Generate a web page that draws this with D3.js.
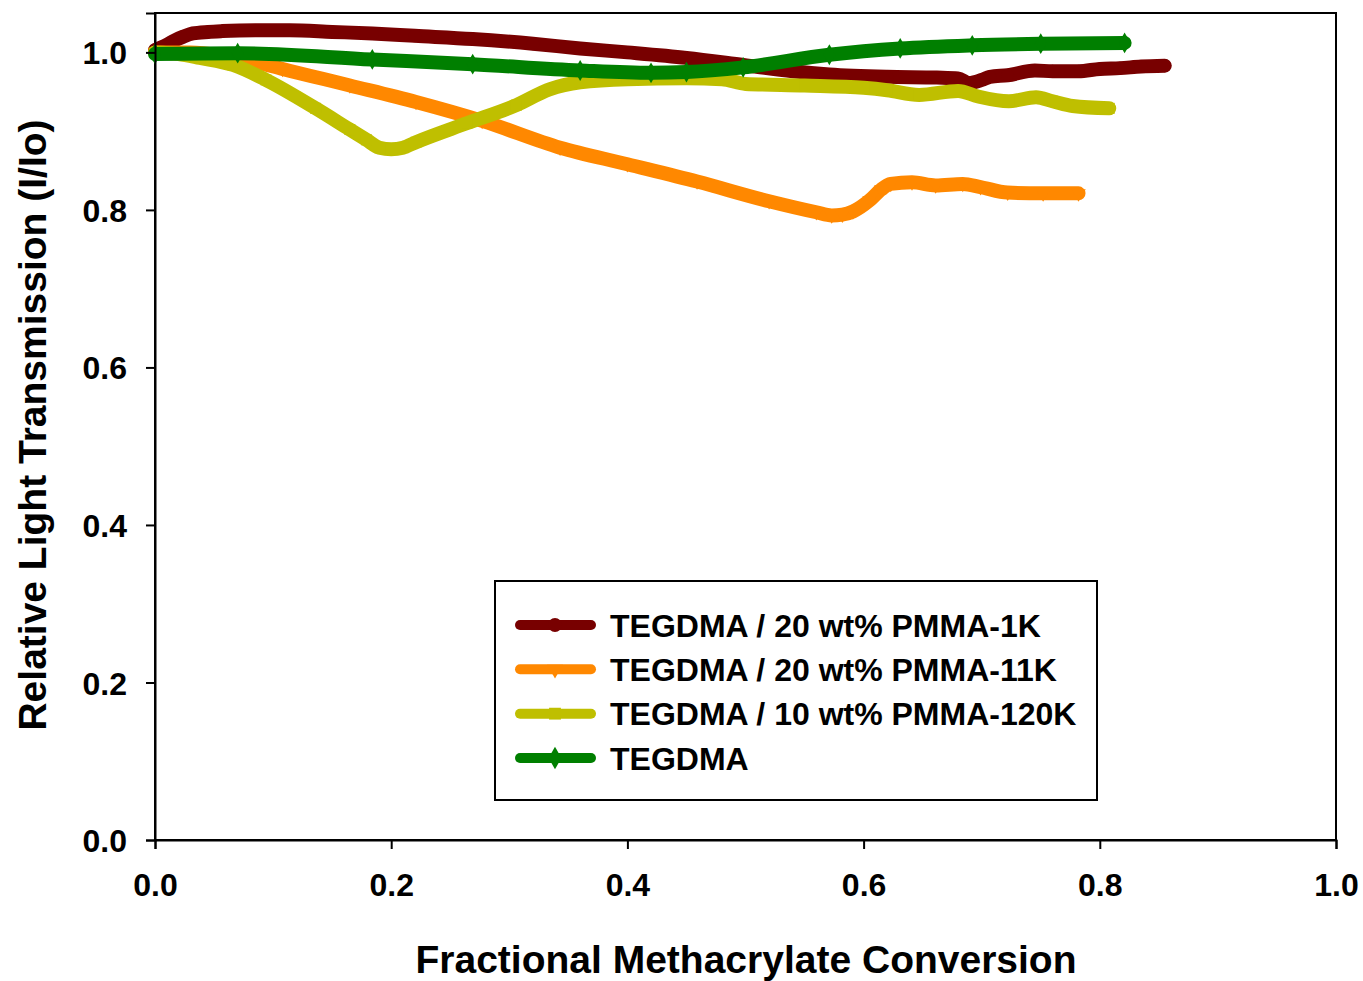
<!DOCTYPE html>
<html>
<head>
<meta charset="utf-8">
<script src="https://cdn.jsdelivr.net/npm/d3@7/dist/d3.min.js"></script>
<style>
  html, body { margin: 0; padding: 0; background: #ffffff; }
  svg { display: block; }
  text { font-family: "Liberation Sans", Arial, sans-serif; font-weight: bold; fill: #000; }
</style>
</head>
<body>
<svg id="chart" width="1363" height="981"></svg>
<script>
// Relative light transmission vs. fractional methacrylate conversion
const seriesNames = [
  "TEGDMA / 20 wt% PMMA-1K",
  "TEGDMA / 20 wt% PMMA-11K",
  "TEGDMA / 10 wt% PMMA-120K",
  "TEGDMA"
];

// TEGDMA / 20 wt% PMMA-1K
const pmma1kX = [0, 0.008, 0.015, 0.024, 0.032, 0.045, 0.057, 0.085, 0.114, 0.15, 0.184, 0.22, 0.269, 0.32, 0.36, 0.4, 0.45, 0.498, 0.54, 0.571, 0.62, 0.662, 0.68, 0.689, 0.7, 0.707, 0.722, 0.745, 0.76, 0.782, 0.8, 0.817, 0.835, 0.855];
const pmma1kY = [1.003, 1.008, 1.014, 1.02, 1.024, 1.026, 1.027, 1.028, 1.028, 1.026, 1.024, 1.021, 1.017, 1.011, 1.005, 1.0, 0.993, 0.984, 0.976, 0.972, 0.969, 0.968, 0.967, 0.961, 0.965, 0.969, 0.971, 0.977, 0.976, 0.976, 0.979, 0.98, 0.982, 0.983];

// TEGDMA / 20 wt% PMMA-11K
const pmma11kX = [0, 0.03, 0.06, 0.085, 0.108, 0.165, 0.221, 0.277, 0.343, 0.4, 0.459, 0.52, 0.56, 0.573, 0.582, 0.591, 0.605, 0.615, 0.623, 0.641, 0.661, 0.684, 0.699, 0.722, 0.752, 0.782];
const pmma11kY = [1.0, 1.0, 0.995, 0.988, 0.979, 0.958, 0.937, 0.913, 0.879, 0.858, 0.836, 0.811, 0.797, 0.793, 0.794, 0.798, 0.812, 0.826, 0.833, 0.835, 0.831, 0.833, 0.829, 0.822, 0.821, 0.821];

// TEGDMA / 10 wt% PMMA-120K
const pmma120kX = [0, 0.02, 0.038, 0.066, 0.094, 0.136, 0.165, 0.179, 0.19, 0.2, 0.21, 0.221, 0.264, 0.306, 0.334, 0.36, 0.4, 0.45, 0.48, 0.5, 0.55, 0.6, 0.62, 0.647, 0.68, 0.697, 0.723, 0.746, 0.76, 0.777, 0.808];
const pmma120kY = [1.0, 0.998, 0.993, 0.984, 0.965, 0.929, 0.902, 0.889, 0.879, 0.877, 0.879, 0.886, 0.91, 0.933, 0.953, 0.962, 0.966, 0.967, 0.966, 0.96, 0.958, 0.955, 0.952, 0.946, 0.951, 0.944, 0.938, 0.943, 0.938, 0.932, 0.929];

// TEGDMA
const tegdmaX = [0, 0.07, 0.184, 0.269, 0.36, 0.42, 0.45, 0.498, 0.571, 0.631, 0.692, 0.75, 0.821];
const tegdmaY = [0.998, 0.999, 0.991, 0.985, 0.977, 0.974, 0.975, 0.981, 0.997, 1.005, 1.009, 1.011, 1.012];

const xTicks = [0.0, 0.2, 0.4, 0.6, 0.8, 1.0];
const yTicks = [0.0, 0.2, 0.4, 0.6, 0.8, 1.0];

const xTitle = "Fractional Methacrylate Conversion";
const yTitle = "Relative Light Transmission (I/Io)";

const colors = ["#780000", "#ff8800", "#bfbf00", "#007f00"];
const symbols = [d3.symbolCircle, d3.symbolTriangle, d3.symbolSquare, d3.symbolDiamond];
const markerSizes = [130, 90, 120, 125];

const series = [
  { name: seriesNames[0], xs: pmma1kX, ys: pmma1kY },
  { name: seriesNames[1], xs: pmma11kX, ys: pmma11kY },
  { name: seriesNames[2], xs: pmma120kX, ys: pmma120kY },
  { name: seriesNames[3], xs: tegdmaX, ys: tegdmaY }
].map((s, i) => ({
  name: s.name,
  color: colors[i],
  symbol: symbols[i],
  markerSize: markerSizes[i],
  points: s.xs.map((x, j) => ({ x, y: s.ys[j] }))
}));

const plot = { left: 155, right: 1336, top: 13, bottom: 840 };
const svg = d3.select("#chart");

const x = d3.scaleLinear().domain([0, 1]).range([plot.left, plot.right]);
const y = d3.scaleLinear().domain([0, 1.05]).range([plot.bottom, plot.top]);

// Frame around the plotting area
svg.append("rect")
  .attr("x", plot.left).attr("y", plot.top)
  .attr("width", plot.right - plot.left).attr("height", plot.bottom - plot.top)
  .attr("fill", "none").attr("stroke", "#000").attr("stroke-width", 2);

const markerTransform = (s, px, py) =>
  `translate(${px},${py})` + (s.symbol === d3.symbolTriangle ? " rotate(180)" : "");

// Data lines with their point markers
const line = d3.line().x(d => x(d.x)).y(d => y(d.y)).curve(d3.curveMonotoneX);
const gSeries = svg.append("g");
series.forEach(s => {
  const g = gSeries.append("g");
  g.append("path")
    .datum(s.points)
    .attr("d", line)
    .attr("fill", "none")
    .attr("stroke", s.color)
    .attr("stroke-width", 14)
    .attr("stroke-linejoin", "round")
    .attr("stroke-linecap", "round");
  g.selectAll("path.mk")
    .data(s.points)
    .join("path")
    .attr("class", "mk")
    .attr("transform", d => markerTransform(s, x(d.x), y(d.y)))
    .attr("d", d3.symbol().type(s.symbol).size(s.markerSize))
    .attr("fill", s.color);
});

// Axes
const xAxis = d3.axisBottom(x).tickValues(xTicks).tickFormat(d3.format(".1f")).tickSize(9).tickPadding(24);
const yAxis = d3.axisLeft(y).tickValues(yTicks).tickFormat(d3.format(".1f")).tickSize(9).tickPadding(19);

const gx = svg.append("g").attr("transform", `translate(0,${plot.bottom})`).call(xAxis);
const gy = svg.append("g").attr("transform", `translate(${plot.left},0)`).call(yAxis);
[gx, gy].forEach(g => {
  g.select(".domain").attr("stroke", "#000").attr("stroke-width", 2);
  g.selectAll(".tick line").attr("stroke", "#000").attr("stroke-width", 2);
  g.selectAll(".tick text")
    .attr("font-family", "'Liberation Sans', Arial, sans-serif")
    .attr("font-weight", "bold")
    .attr("font-size", 32)
    .attr("fill", "#000");
});
gy.selectAll(".tick text").attr("dy", "0.36em");

// Axis titles
svg.append("text")
  .attr("x", 746)
  .attr("y", 973)
  .attr("text-anchor", "middle")
  .attr("font-size", 39)
  .text(xTitle);

svg.append("text")
  .attr("transform", "translate(46,425) rotate(-90)")
  .attr("text-anchor", "middle")
  .attr("font-size", 39)
  .text(yTitle);

// Legend
const legend = svg.append("g");
legend.append("rect")
  .attr("x", 495).attr("y", 581).attr("width", 602).attr("height", 219)
  .attr("fill", "#fff").attr("stroke", "#000").attr("stroke-width", 2);

const rowY = d3.scalePoint().domain(seriesNames).range([625, 758]);
series.forEach(s => {
  const cy = rowY(s.name);
  const row = legend.append("g");
  row.append("line")
    .attr("x1", 520).attr("x2", 591).attr("y1", cy).attr("y2", cy)
    .attr("stroke", s.color).attr("stroke-width", 10).attr("stroke-linecap", "round");
  row.append("path")
    .attr("transform", markerTransform(s, 555, cy))
    .attr("d", d3.symbol().type(s.symbol).size(s.markerSize + 20))
    .attr("fill", s.color);
  row.append("text")
    .attr("x", 610).attr("y", cy)
    .attr("dy", "0.36em")
    .attr("font-size", 32)
    .text(s.name);
});
</script>
</body>
</html>
